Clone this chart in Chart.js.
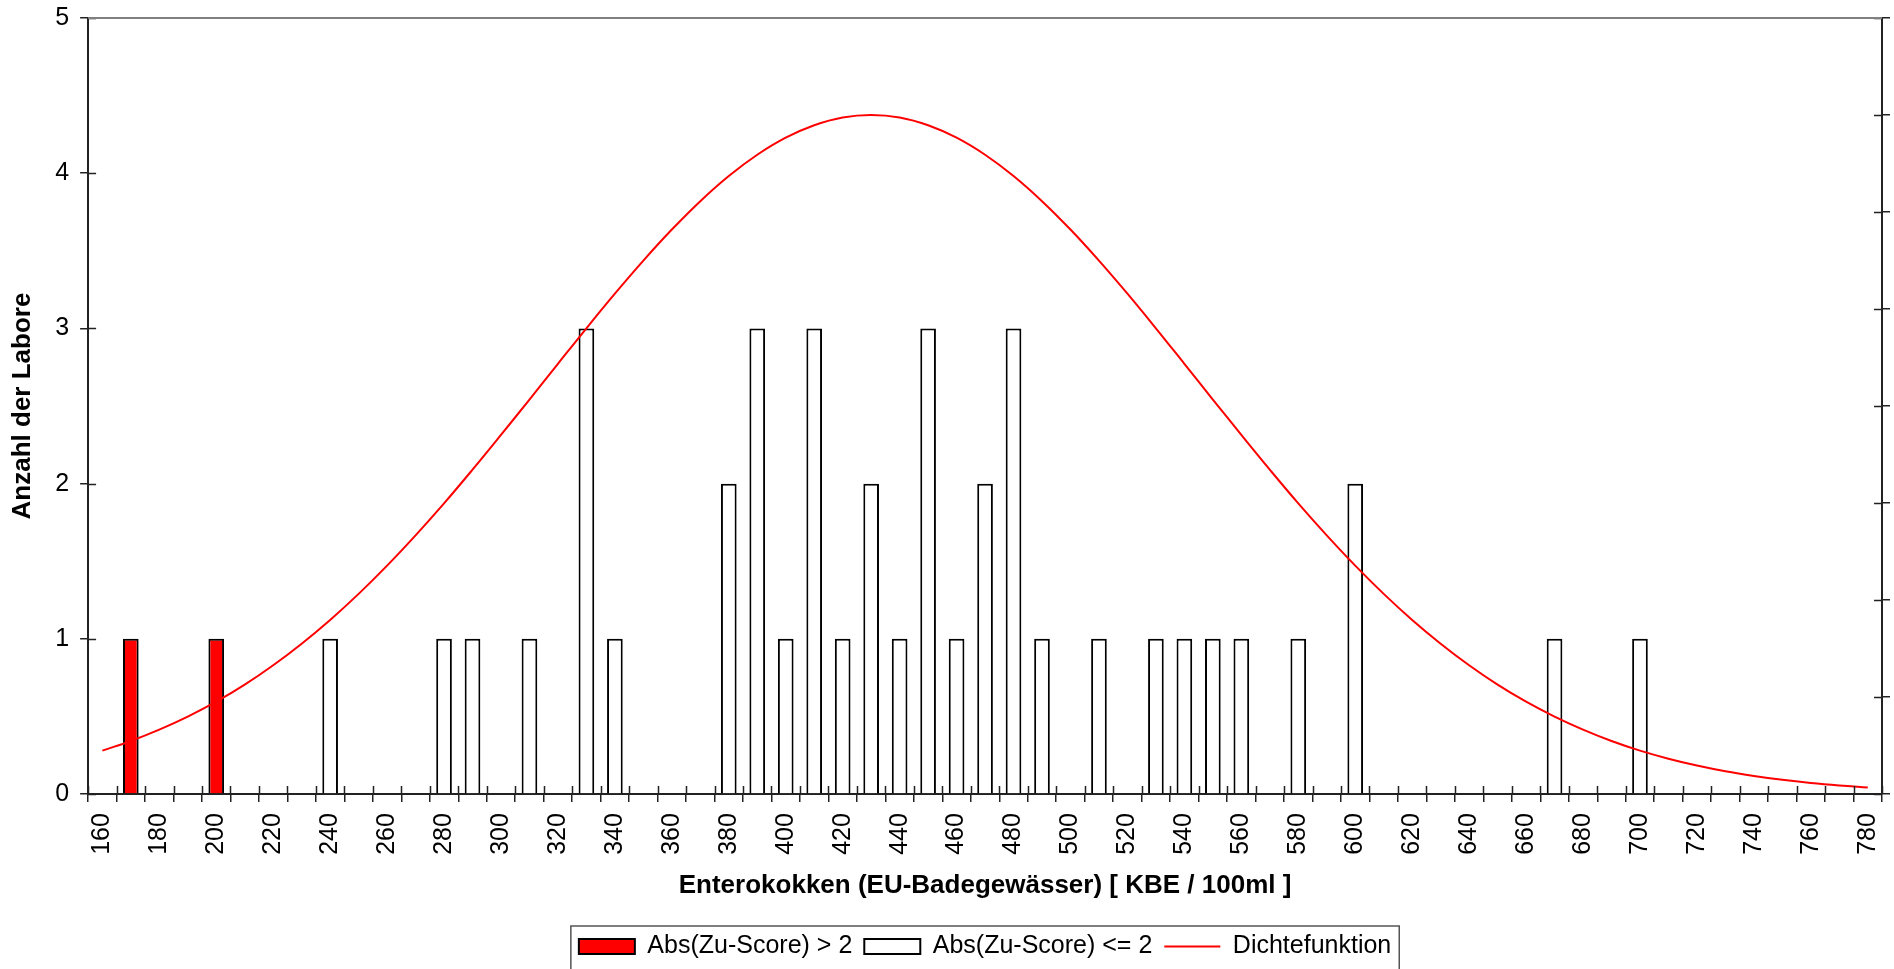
<!DOCTYPE html>
<html>
<head>
<meta charset="utf-8">
<script src="https://cdn.jsdelivr.net/npm/chart.js@4/dist/chart.umd.min.js"></script>
<style>
  body { margin: 0; background: #fff; }
  #wrap { width: 1894px; height: 969px; }
</style>
</head>
<body>
<div id="wrap"><canvas id="myChart"></canvas></div>
<script>
// category axis: 160 .. 780 in steps of 10
const categories = ['160','170','180','190','200','210','220','230','240','250','260','270','280','290','300','310','320','330','340','350','360','370','380','390','400','410','420','430','440','450','460','470','480','490','500','510','520','530','540','550','560','570','580','590','600','610','620','630','640','650','660','670','680','690','700','710','720','730','740','750','760','770','780'];

// labs with Abs(Zu-Score) > 2
const outlierX = ['170', '200'];
const outlierCount = [1, 1];

// labs with Abs(Zu-Score) <= 2
const normalX = ['240','280','290','310','330','340','380','390','400','410','420','430','440','450','460','470','480','490','510','530','540','550','560','580','600','670','700'];
const normalCount = [1, 1, 1, 1, 3, 1, 2, 3, 1, 3, 1, 2, 1, 3, 1, 2, 3, 1, 1, 1, 1, 1, 1, 1, 2, 1, 1];

// density curve, read at every category (in count units)
const density = [0.280, 0.342, 0.415, 0.499, 0.595, 0.705, 0.830, 0.969, 1.122, 1.290,
  1.472, 1.667, 1.873, 2.090, 2.314, 2.542, 2.772, 3.001, 3.224, 3.437,
  3.637, 3.820, 3.982, 4.119, 4.229, 4.309, 4.359, 4.375, 4.359, 4.309,
  4.229, 4.119, 3.982, 3.820, 3.637, 3.437, 3.224, 3.001, 2.772, 2.542,
  2.314, 2.090, 1.873, 1.667, 1.472, 1.290, 1.122, 0.969, 0.830, 0.705,
  0.595, 0.499, 0.415, 0.342, 0.280, 0.228, 0.184, 0.147, 0.117, 0.092,
  0.072, 0.056, 0.043];

const yTicks = [0, 1, 2, 3, 4, 5];

Chart.defaults.font.family = '"Liberation Sans", Arial, sans-serif';
Chart.defaults.color = '#000';

// inner halves of tick marks, top frame line and legend border
const frame = {
    id: 'frame',
    afterDraw(chart) {
        const ctx = chart.ctx;
        const a = chart.chartArea;
        const sx = chart.scales.x, sy = chart.scales.y, sy2 = chart.scales.y2;
        ctx.save();
        ctx.lineWidth = 1.5;
        ctx.strokeStyle = '#222';
        ctx.beginPath();
        const half = (sx.getPixelForValue(1) - sx.getPixelForValue(0)) / 2;
        for (let i = 0; i <= categories.length; i++) {
            const px = Math.round(sx.getPixelForValue(i) - half) + 0.5;
            ctx.moveTo(px, a.bottom);
            ctx.lineTo(px, a.bottom - 8);
        }
        sy.ticks.forEach(t => {
            const py = Math.round(sy.getPixelForValue(t.value)) + 0.5;
            ctx.moveTo(a.left, py);
            ctx.lineTo(a.left + 8, py);
        });
        sy2.ticks.forEach(t => {
            const py = Math.round(sy2.getPixelForValue(t.value)) + 0.5;
            ctx.moveTo(a.right, py);
            ctx.lineTo(a.right - 8, py);
        });
        ctx.stroke();

        ctx.strokeStyle = '#808080';
        ctx.lineWidth = 2;
        ctx.beginPath();
        ctx.moveTo(a.left, a.top);
        ctx.lineTo(a.right, a.top);
        ctx.stroke();

        const boxes = chart.legend.legendHitBoxes;
        if (boxes && boxes.length) {
            let l = Infinity, r = -Infinity, t = Infinity, b = -Infinity;
            boxes.forEach(h => {
                l = Math.min(l, h.left); r = Math.max(r, h.left + h.width);
                t = Math.min(t, h.top); b = Math.max(b, h.top + h.height);
            });
            ctx.strokeStyle = '#555';
            ctx.lineWidth = 1.5;
            ctx.strokeRect(l - 8, t - 8, r - l + 16, b - t + 24);
        }
        ctx.restore();
    }
};

const ctx = document.getElementById('myChart').getContext('2d');

new Chart(ctx, {
    type: 'bar',
    data: {
        labels: categories,
        datasets: [{
            label: 'Abs(Zu-Score) > 2',
            data: outlierX.map((x, i) => ({ x: x, y: outlierCount[i] })),
            backgroundColor: '#FF0000',
            borderColor: '#000',
            borderWidth: 2,
            grouped: false,
            barPercentage: 0.55,
            categoryPercentage: 1,
            pointStyle: 'rect',
            order: 1
        }, {
            label: 'Abs(Zu-Score) <= 2',
            data: normalX.map((x, i) => ({ x: x, y: normalCount[i] })),
            backgroundColor: '#FFFFFF',
            borderColor: '#000',
            borderWidth: 2,
            grouped: false,
            barPercentage: 0.55,
            categoryPercentage: 1,
            pointStyle: 'rect',
            order: 1
        }, {
            type: 'line',
            label: 'Dichtefunktion',
            data: density,
            borderColor: '#FF0000',
            backgroundColor: '#FF0000',
            borderWidth: 2,
            pointRadius: 0,
            tension: 0.4,
            pointStyle: 'line',
            order: 0
        }]
    },
    options: {
        responsive: true,
        maintainAspectRatio: false,
        animation: false,
        layout: { padding: { top: 18, right: 4, left: 7, bottom: 0 } },
        plugins: {
            tooltip: { enabled: false },
            legend: {
                position: 'bottom',
                fullSize: false,
                labels: {
                    usePointStyle: true,
                    pointStyleWidth: 56,
                    boxHeight: 15,
                    padding: 12,
                    font: { size: 25 },
                    color: '#000',
                    sort: (a, b) => a.datasetIndex - b.datasetIndex
                }
            }
        },
        scales: {
            x: {
                type: 'category',
                offset: true,
                afterFit: s => { s.paddingLeft = 0; s.paddingRight = 0; },
                grid: { offset: true, drawOnChartArea: false, tickLength: 8, color: '#222', lineWidth: 1.5 },
                border: { color: '#222', width: 2 },
                ticks: {
                    autoSkip: false,
                    maxRotation: 90,
                    minRotation: 90,
                    padding: 11,
                    font: { size: 25 },
                    callback: function (v, i) { return i % 2 === 0 ? categories[i] : ''; }
                },
                title: {
                    display: true,
                    text: 'Enterokokken (EU-Badegewässer) [ KBE / 100ml ]',
                    font: { size: 26, weight: 'bold' },
                    padding: { top: 4, bottom: 21 }
                }
            },
            y: {
                min: 0,
                max: 5,
                afterBuildTicks: s => { s.ticks = yTicks.map(v => ({ value: v })); },
                afterFit: s => { s.paddingTop = 0; s.paddingBottom = 0; },
                grid: { drawOnChartArea: false, tickLength: 8, color: '#222', lineWidth: 1.5 },
                border: { color: '#222', width: 2 },
                ticks: { padding: 11, font: { size: 25 } },
                title: {
                    display: true,
                    text: 'Anzahl der Labore',
                    font: { size: 26, weight: 'bold' },
                    padding: { top: 0, bottom: 6 }
                }
            },
            y2: {
                position: 'right',
                min: 0,
                max: 8,
                afterFit: s => { s.paddingTop = 0; s.paddingBottom = 0; },
                ticks: { display: false, stepSize: 1 },
                grid: { drawOnChartArea: false, tickLength: 8, color: '#222', lineWidth: 1.5 },
                border: { color: '#222', width: 2 }
            }
        }
    },
    plugins: [frame]
});
</script>
</body>
</html>
